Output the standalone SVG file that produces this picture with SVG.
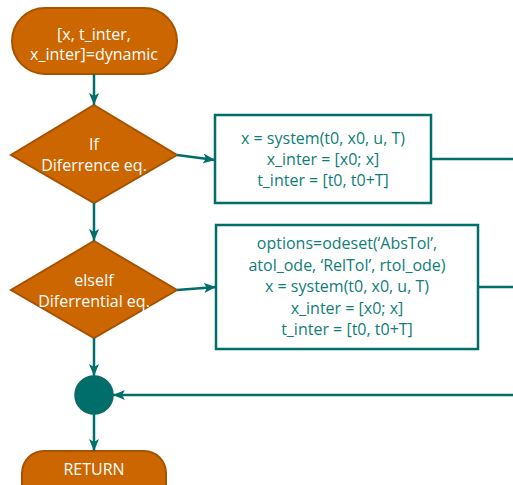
<svg xmlns="http://www.w3.org/2000/svg" width="513" height="485" viewBox="0 0 513 485">
<defs>
<style>
.term{fill:#CC6600;stroke:#A85200;stroke-width:2}
.dec{fill:#CC6600;stroke:#A85200;stroke-width:2}
.box{fill:#fff;stroke:#006E6A;stroke-width:2.5}
.wt{fill:#fff;font-family:"Open Sans","Liberation Sans",Arial,sans-serif;font-size:16px;text-anchor:middle}
.tt{fill:#0F7E78;font-family:"Open Sans","Liberation Sans",Arial,sans-serif;font-size:16px;text-anchor:middle}
.ln{stroke:#006E6A;stroke-width:2.5;fill:none}
</style>
<marker id="ah" viewBox="0 0 12 10" refX="12" refY="5" markerWidth="12" markerHeight="10" markerUnits="userSpaceOnUse" orient="auto">
<path d="M0,0 L12,5 L0,10 L3,5 Z" fill="#006E6A"/>
</marker>
</defs>
<g id="start">
<rect class="term" x="12" y="8" width="165" height="66" rx="33"/>
<text class="wt" x="94" y="40">[x, t_inter,</text>
<text class="wt" x="94" y="60">x_inter]=dynamic</text>
</g>
<g id="if">
<polygon class="dec" points="94,105 177,155 94,203 11,155"/>
<text class="wt" x="94" y="150">If</text>
<text class="wt" x="94" y="171">Diferrence eq.</text>
</g>
<g id="box1">
<rect class="box" x="215" y="115" width="216" height="88"/>
<text class="tt" x="323" y="144">x = system(t0, x0, u, T)</text>
<text class="tt" x="323" y="165">x_inter = [x0; x]</text>
<text class="tt" x="323" y="186">t_inter = [t0, t0+T]</text>
</g>
<g id="elseif">
<polygon class="dec" points="94,241 177,290 94,338 11,290"/>
<text class="wt" x="94" y="286">elseIf</text>
<text class="wt" x="94" y="307">Diferrential eq.</text>
</g>
<g id="box2">
<rect class="box" x="216" y="225" width="262" height="124"/>
<text class="tt" x="347" y="249">options=odeset(‘AbsTol’,</text>
<text class="tt" x="347" y="271">atol_ode, ‘RelTol’, rtol_ode)</text>
<text class="tt" x="347" y="292">x = system(t0, x0, u, T)</text>
<text class="tt" x="347" y="314">x_inter = [x0; x]</text>
<text class="tt" x="347" y="335">t_inter = [t0, t0+T]</text>
</g>
<g id="merge">
<circle cx="94" cy="395" r="19" fill="#006E6A" stroke="#0A6B66" stroke-width="1.5"/>
</g>
<g id="return">
<rect class="term" x="22" y="451" width="144" height="60" rx="22"/>
<text class="wt" x="94" y="475">RETURN</text>
</g>
<g id="connectors">
<line class="ln" x1="94" y1="74" x2="94" y2="105" marker-end="url(#ah)"/>
<line class="ln" x1="177" y1="155" x2="215" y2="160" marker-end="url(#ah)"/>
<line class="ln" x1="431" y1="159" x2="513" y2="159"/>
<line class="ln" x1="94" y1="203" x2="94" y2="241" marker-end="url(#ah)"/>
<line class="ln" x1="177" y1="290" x2="216" y2="287" marker-end="url(#ah)"/>
<line class="ln" x1="478" y1="287" x2="513" y2="287"/>
<line class="ln" x1="94" y1="338" x2="94" y2="376" marker-end="url(#ah)"/>
<line class="ln" x1="513" y1="395" x2="113" y2="395" marker-end="url(#ah)"/>
<line class="ln" x1="94" y1="414" x2="94" y2="451" marker-end="url(#ah)"/>
</g>
</svg>
